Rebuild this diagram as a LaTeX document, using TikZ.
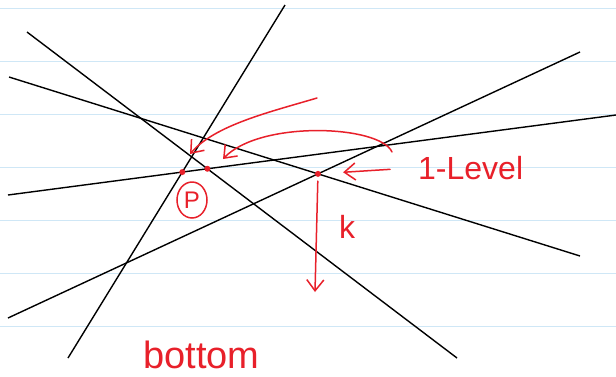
\documentclass[tikz,border=0pt]{standalone}
\usepackage{fontspec}
\setmainfont{Liberation Sans}
\usetikzlibrary{arrows.meta,shapes.geometric}
\definecolor{tinta}{HTML}{E8202A}
\definecolor{pauta}{HTML}{CFE7F6}
\tikzset{
  ratlla/.style={draw=pauta, line width=1pt},
  recta/.style={draw=black, line width=1.4pt},
  llapis/.style={draw=tinta, line width=1.5pt, line cap=round, line join=round},
  fletxa/.style={llapis, -{Straight Barb[length=11pt,width=17pt]}},
  punt/.style={circle, fill=tinta, inner sep=0pt, minimum size=6pt},
  nota/.style={text=tinta, font=\fontsize{32}{36}\selectfont, inner sep=0pt},
}

\begin{document}
\begin{tikzpicture}[x=1pt,y=-1pt]
  \useasboundingbox (0,0) rectangle (616,376);
  \fill[white] (0,0) rectangle (616,376);

  % Pauta del full.
  \foreach \y in {8,61,...,326}
    \draw[ratlla] (0,\y) -- (616,\y);

  % Extrems de les cinc rectes.
  \coordinate (a1) at (285,5);   \coordinate (b1) at (68,358);
  \coordinate (a2) at (27,32);   \coordinate (b2) at (457,358);
  \coordinate (a3) at (9,77);    \coordinate (b3) at (580,256);
  \coordinate (a4) at (8,195);   \coordinate (b4) at (616,115);
  \coordinate (a5) at (8,318);   \coordinate (b5) at (580,52);
  \foreach \i in {1,...,5}
    \draw[recta] (a\i) -- (b\i);

  % Vèrtexs marcats.
  \node[punt] (p1) at (intersection of a1--b1 and a4--b4) {};
  \node[punt] (p2) at (intersection of a2--b2 and a4--b4) {};
  \node[punt] (p3) at (intersection of a3--b3 and a5--b5) {};

  % Anotacions a mà.
  \node[nota, anchor=base west] (nivell) at (418,179) {1-Level};
  \draw[fletxa, shorten <=28pt, shorten >=22pt] (nivell.west) -- (p3);

  \coordinate (kfi) at (315,292);
  \draw[fletxa, shorten <=4pt] (p3) -- (kfi);
  \node[nota, anchor=base west] (k) at (339,238) {k};

  \node[nota, anchor=base west, font=\fontsize{38}{42}\selectfont] (fons) at (143,368) {bottom};

  \node[draw=tinta, line width=1.5pt, ellipse, minimum width=30pt, minimum height=36pt,
        inner sep=0pt, text=tinta, font=\fontsize{24}{26}\selectfont] (pp) at (192,200) {P};

  % Corbes que assenyalen els vèrtexs de l'esquerra.
  \coordinate (c1) at (317,98);  \coordinate (d1) at (190,154);
  \draw[fletxa] (c1) .. controls (270,112) and (215,125) .. (d1);
  \coordinate (c2) at (392,152); \coordinate (d2) at (223,159);
  \draw[fletxa] (c2) .. controls (380,125) and (260,120) .. (d2);
\end{tikzpicture}
\end{document}
